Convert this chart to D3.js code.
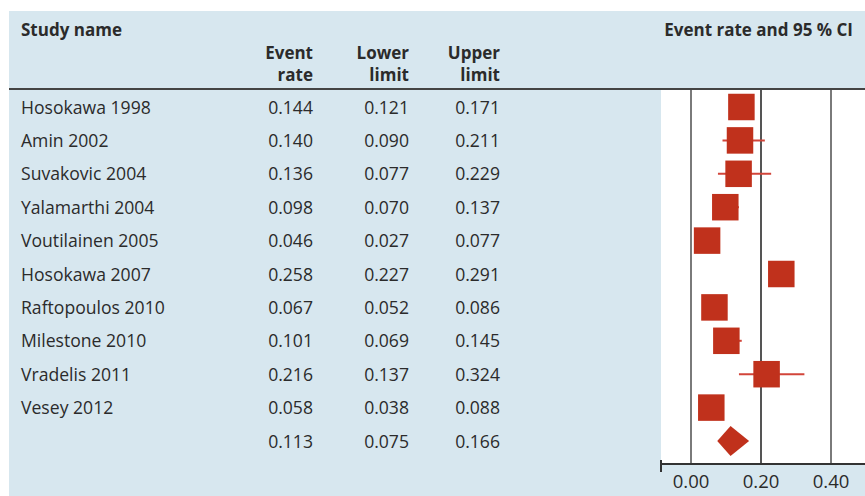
<!DOCTYPE html>
<html><head><meta charset="utf-8">
<script src="https://cdn.jsdelivr.net/npm/d3@7"></script>
<style>body{margin:0;background:#fff}svg{display:block}text{font-family:"Open Sans",sans-serif;fill:#2b2b2b}</style>
</head><body><svg id="c" width="865" height="496"></svg>
<script>
const studies = ["Hosokawa 1998","Amin 2002","Suvakovic 2004","Yalamarthi 2004","Voutilainen 2005","Hosokawa 2007","Raftopoulos 2010","Milestone 2010","Vradelis 2011","Vesey 2012"];
const eventRate = [0.144,0.140,0.136,0.098,0.046,0.258,0.067,0.101,0.216,0.058];
const lowerLimit = [0.121,0.090,0.077,0.070,0.027,0.227,0.052,0.069,0.137,0.038];
const upperLimit = [0.171,0.211,0.229,0.137,0.077,0.291,0.086,0.145,0.324,0.088];
const pooled = {rate:0.113, lower:0.075, upper:0.166};
const ticks = [0.00,0.20,0.40];

const svg = d3.select("#c");
const fmt = d3.format(".3f");
svg.append("rect").attr("x",9).attr("y",11).attr("width",856).attr("height",485).attr("fill","#d7e7ef");
const x = d3.scaleLinear().domain([0,0.4]).range([691,831]);
const rows = studies.map((s,i)=>({name:s,rate:eventRate[i],lo:lowerLimit[i],hi:upperLimit[i]}));
const y = d3.scalePoint().domain(d3.range(11)).range([107,441]);

svg.append("rect").attr("x",661).attr("y",89).attr("width",204).attr("height",375).attr("fill","#fff");
svg.selectAll(".grid").data(ticks).join("line").attr("x1",d=>x(d)).attr("x2",d=>x(d)).attr("y1",89).attr("y2",464)
  .attr("stroke",d=>d===0.2?"#555":"#7a7a7a").attr("stroke-width",2);
svg.append("line").attr("x1",9).attr("x2",865).attr("y1",89).attr("y2",89).attr("stroke","#444").attr("stroke-width",2);

// headers
const hb = (t,xx,yy,anchor)=>svg.append("text").attr("x",xx).attr("y",yy).attr("text-anchor",anchor).attr("font-weight","bold").attr("font-size",17).text(t);
hb("Study name",21,36,"start");
hb("Event rate and 95 % CI",853,36,"end");
[["Event","rate",313],["Lower","limit",409],["Upper","limit",500]].forEach(h=>{hb(h[0],h[2],59,"end");hb(h[1],h[2],81,"end");});

// table
const all = rows.concat([{name:"",rate:pooled.rate,lo:pooled.lower,hi:pooled.upper}]);
all.forEach((r,i)=>{
  const yy = y(i)+6.5;
  svg.append("text").attr("x",21).attr("y",yy).attr("font-size",17.6).text(r.name);
  [[r.rate,313],[r.lo,409],[r.hi,500]].forEach(c=>svg.append("text").attr("x",c[1]).attr("y",yy).attr("text-anchor","end").attr("font-size",17.6).text(fmt(c[0])));
});

const red = "#c0311c";
svg.selectAll(".ci").data(rows).join("line").attr("x1",d=>x(d.lo)).attr("x2",d=>x(d.hi)).attr("y1",(d,i)=>y(i)).attr("y2",(d,i)=>y(i))
  .attr("stroke","#d2453a").attr("stroke-width",2);
const bs = 26.5;
svg.selectAll(".box").data(rows).join("rect").attr("x",d=>x(d.rate)-bs/2).attr("y",(d,i)=>y(i)-bs/2).attr("width",bs).attr("height",bs).attr("fill",red);
const py = y(10);
svg.append("path").attr("d",`M${x(pooled.lower)},${py}L${x(pooled.rate)},${py-15}L${x(pooled.upper)},${py}L${x(pooled.rate)},${py+15}Z`).attr("fill",red);

// axis
const ax = d3.scaleLinear().domain([x.invert(661),x.invert(865)]).range([661,865]);
const axis = svg.append("g").attr("transform","translate(0,464)");
axis.append("line").attr("x1",661).attr("x2",865).attr("stroke","#333").attr("stroke-width",2);
axis.append("line").attr("x1",661).attr("x2",661).attr("y1",-4).attr("y2",8).attr("stroke","#333").attr("stroke-width",2);
axis.selectAll("text").data(ticks).join("text").attr("x",d=>ax(d)).attr("y",24).attr("text-anchor","middle").attr("font-size",18.5).text(d=>d.toFixed(2));
</script></body></html>
